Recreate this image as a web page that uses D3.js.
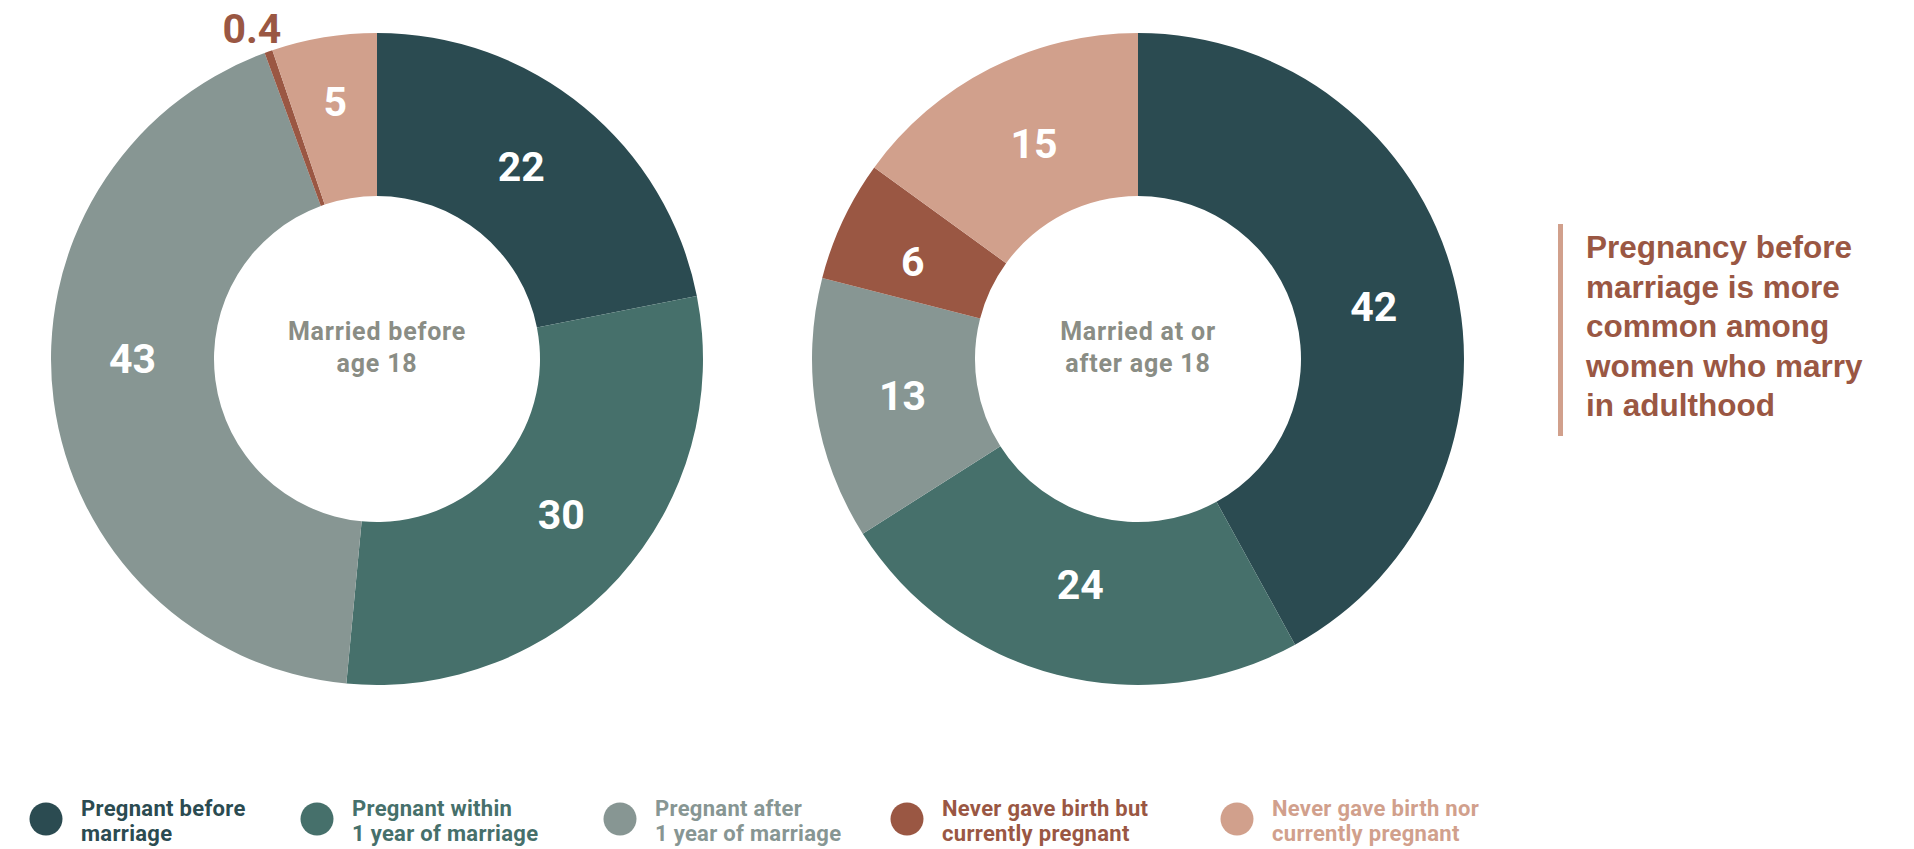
<!DOCTYPE html>
<html>
<head>
<meta charset="utf-8">
<script src="https://cdn.jsdelivr.net/npm/d3@7"></script>
<style>
  html, body { margin: 0; padding: 0; background: #ffffff; }
  svg { display: block; }
</style>
</head>
<body>
<svg id="chart" width="1914" height="849"></svg>
<script>
// ---- Data ----
const categories = [
  "Pregnant before marriage",
  "Pregnant within 1 year of marriage",
  "Pregnant after 1 year of marriage",
  "Never gave birth but currently pregnant",
  "Never gave birth nor currently pregnant"
];
const legendLines = [
  ["Pregnant before", "marriage"],
  ["Pregnant within", "1 year of marriage"],
  ["Pregnant after", "1 year of marriage"],
  ["Never gave birth but", "currently pregnant"],
  ["Never gave birth nor", "currently pregnant"]
];
// slice shares (labels show them rounded)
const marriedBefore18 = [21.9, 29.6, 42.9, 0.4, 5.2];
const marriedAtOrAfter18 = [42, 24, 13, 6, 15];
const groupLabels = [
  ["Married before", "age 18"],
  ["Married at or", "after age 18"]
];
const annotationLines = [
  "Pregnancy before",
  "marriage is more",
  "common among",
  "women who marry",
  "in adulthood"
];
const palette = ["#2b4b51", "#46706b", "#879693", "#9a5743", "#d1a08c"];

// ---- Layout (label nudges, px) ----
const labelNudge = [
  [[-11, -3], [3, -8], [-2, -31], [-8, 2], [-2, -16]],
  [[-1, 9], [3, -11], [6, -1], [-4, 7], [7, 3]]
];

// ---- Drawing ----
const svg = d3.select("#chart");
const color = d3.scaleOrdinal().domain(categories).range(palette);
const fmt = v => (v < 1 ? v : Math.round(v));

const outerR = 326, innerR = 163;
const pie = d3.pie().sort(null).value(d => d.value);
const arc = d3.arc().innerRadius(innerR).outerRadius(outerR);
const labelArc = d3.arc().innerRadius(innerR).outerRadius(outerR);
const outsideArc = d3.arc().innerRadius(352).outerRadius(352);

const donuts = [
  { cx: 377, cy: 359, values: marriedBefore18, center: groupLabels[0] },
  { cx: 1138, cy: 359, values: marriedAtOrAfter18, center: groupLabels[1] }
];

donuts.forEach((dn, k) => {
  const g = svg.append("g").attr("transform", `translate(${dn.cx},${dn.cy})`);
  const data = pie(categories.map((c, i) => ({ cat: c, value: dn.values[i] })));
  g.selectAll("path.slice")
    .data(data)
    .join("path")
    .attr("class", "slice")
    .attr("d", arc)
    .attr("fill", d => color(d.data.cat));

  g.selectAll("text.val")
    .data(data)
    .join("text")
    .attr("class", "val")
    .each(function(d, i) {
      const small = d.data.value < 1;
      const [x, y] = small ? outsideArc.centroid(d) : labelArc.centroid(d);
      const [nx, ny] = labelNudge[k][i];
      d3.select(this)
        .attr("x", x + nx)
        .attr("y", y + ny)
        .attr("fill", small ? color(d.data.cat) : "#ffffff");
    })
    .attr("text-anchor", "middle")
    .attr("dominant-baseline", "central")
    .attr("font-family", "Roboto, 'Liberation Sans', sans-serif")
    .attr("font-weight", 700)
    .attr("font-size", 41)
    .text(d => fmt(d.data.value));

  const ct = g.append("text")
    .attr("text-anchor", "middle")
    .attr("font-family", "Roboto, 'Liberation Sans', sans-serif")
    .attr("font-weight", 700)
    .attr("font-size", 25)
    .attr("letter-spacing", 0.8)
    .attr("fill", "#8a8d85");
  dn.center.forEach((line, i) => {
    ct.append("tspan")
      .attr("x", 0)
      .attr("y", -19 + i * 32)
      .text(line);
  });
});

// ---- Annotation ----
svg.append("line")
  .attr("x1", 1560.5).attr("x2", 1560.5)
  .attr("y1", 224).attr("y2", 436)
  .attr("stroke", "#d1a08c")
  .attr("stroke-width", 5);

const ann = svg.append("text")
  .attr("font-family", "'Liberation Sans', Arial, sans-serif")
  .attr("font-weight", 700)
  .attr("font-size", 31.5)
  .attr("fill", "#9a5743");
annotationLines.forEach((line, i) => {
  ann.append("tspan").attr("x", 1586).attr("y", 258 + i * 39.6).text(line);
});

// ---- Legend ----
const legendX = [46, 317, 620, 907, 1237];
const legend = svg.append("g");
categories.forEach((c, i) => {
  const lg = legend.append("g").attr("transform", `translate(${legendX[i]},819)`);
  lg.append("circle").attr("r", 16.5).attr("fill", color(c));
  const t = lg.append("text")
    .attr("font-family", "Roboto, 'Liberation Sans', sans-serif")
    .attr("font-weight", 700)
    .attr("font-size", 22)
    .attr("letter-spacing", 0.3)
    .attr("fill", color(c));
  legendLines[i].forEach((line, j) => {
    t.append("tspan").attr("x", 35).attr("y", -3 + j * 24.5).text(line);
  });
});
</script>
</body>
</html>
